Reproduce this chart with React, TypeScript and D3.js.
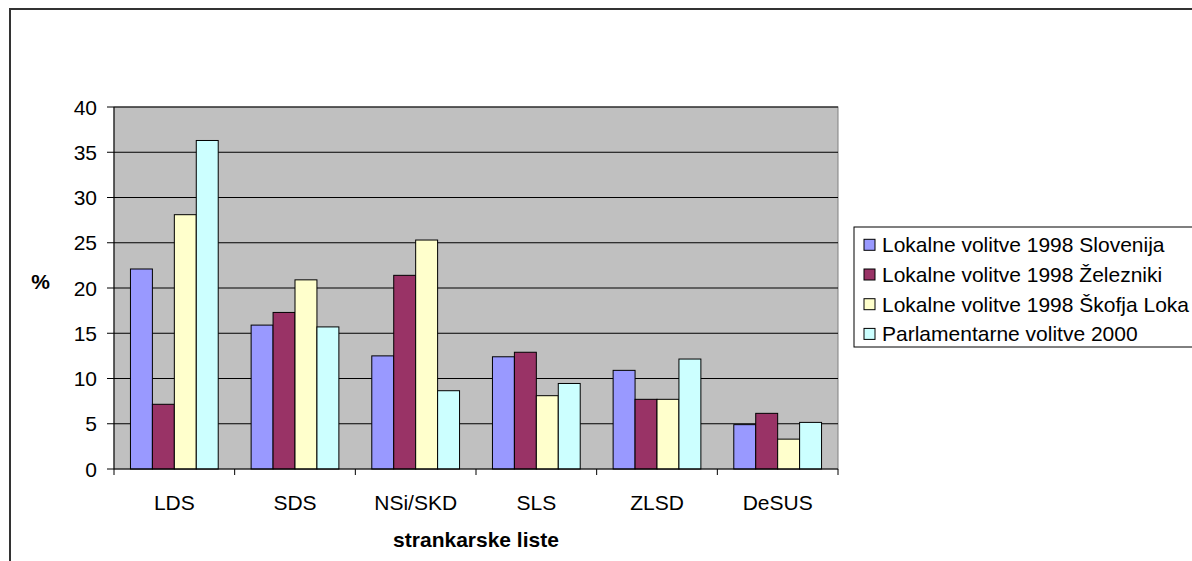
import React from "react";
import * as d3 from "d3";

const categories = ["LDS", "SDS", "NSi/SKD", "SLS", "ZLSD", "DeSUS"];
const seriesNames = [
  "Lokalne volitve 1998 Slovenija",
  "Lokalne volitve 1998 Železniki",
  "Lokalne volitve 1998 Škofja Loka",
  "Parlamentarne volitve 2000",
];
const slovenija = [22.1, 15.9, 12.5, 12.4, 10.9, 4.9];
const zelezniki = [7.15, 17.3, 21.4, 12.9, 7.7, 6.15];
const skofjaLoka = [28.1, 20.9, 25.3, 8.1, 7.7, 3.3];
const parlamentarne = [36.3, 15.7, 8.65, 9.45, 12.15, 5.15];
const seriesValues = [slovenija, zelezniki, skofjaLoka, parlamentarne];
const seriesColors = ["#9999ff", "#993366", "#ffffcc", "#ccffff"];
const yTicks = [0, 5, 10, 15, 20, 25, 30, 35, 40];
const xTitle = "strankarske liste";
const yTitle = "%";

const W = 1192;
const H = 561;
const plot = { left: 114, right: 838, top: 107, bottom: 469 };
const FONT = "'Liberation Sans', Arial, sans-serif";

export default function App() {
  const x0 = d3
    .scaleBand<string>()
    .domain(categories)
    .range([plot.left, plot.right])
    .paddingInner(0)
    .paddingOuter(0);
  const gapRatio = 1.5;
  const barW = x0.bandwidth() / (seriesNames.length + gapRatio);
  const x1 = d3
    .scaleBand<number>()
    .domain(d3.range(seriesNames.length))
    .range([x0.bandwidth() * (gapRatio / 2) / (seriesNames.length + gapRatio), x0.bandwidth() * (gapRatio / 2) / (seriesNames.length + gapRatio) + barW * seriesNames.length]);
  const y = d3.scaleLinear().domain([0, 40]).range([plot.bottom, plot.top]);

  const legend = { x: 854, y: 227, rowH: 29.7, firstRow: 244.8 };

  return (
    <svg
      width={W}
      height={H}
      style={{ position: "absolute", left: 0, top: 0, background: "#fff" }}
      fontFamily={FONT}
    >
      <rect x={0} y={0} width={W} height={H} fill="#fff" />
      {/* outer chart frame */}
      <path d={`M10,${H + 5} L10,9 L${W + 5},9`} fill="none" stroke="#333" strokeWidth={2} />

      {/* plot area */}
      <rect
        x={plot.left}
        y={plot.top}
        width={plot.right - plot.left}
        height={plot.bottom - plot.top}
        fill="#c0c0c0"
        stroke="#808080"
        strokeWidth={1}
      />
      {yTicks.filter((t) => t > 0).map((t) => (
        <line key={"g" + t} x1={plot.left} x2={plot.right} y1={y(t)} y2={y(t)} stroke="#000" strokeWidth={1} />
      ))}

      {/* bars */}
      {categories.map((c, ci) => (
        <g key={c}>
          {seriesValues.map((vals, si) => (
            <rect
              key={si}
              x={(x0(c) as number) + (x1(si) as number)}
              y={y(vals[ci])}
              width={barW}
              height={y(0) - y(vals[ci])}
              fill={seriesColors[si]}
              stroke="#000"
              strokeWidth={1}
            />
          ))}
        </g>
      ))}

      {/* axes */}
      <line x1={plot.left} x2={plot.left} y1={plot.top} y2={plot.bottom} stroke="#000" strokeWidth={1} />
      <line x1={plot.left} x2={plot.right} y1={plot.bottom} y2={plot.bottom} stroke="#000" strokeWidth={1} />
      {yTicks.map((t) => (
        <g key={"t" + t}>
          <line x1={plot.left - 7} x2={plot.left} y1={y(t)} y2={y(t)} stroke="#000" strokeWidth={1} />
          <text x={97} y={y(t)} dy="0.36em" textAnchor="end" fontSize={21} fill="#000">
            {t}
          </text>
        </g>
      ))}
      {d3.range(categories.length + 1).map((i) => {
        const xx = plot.left + i * x0.bandwidth();
        return <line key={"xt" + i} x1={xx} x2={xx} y1={plot.bottom} y2={plot.bottom + 6} stroke="#000" strokeWidth={1} />;
      })}
      {categories.map((c) => (
        <text key={"c" + c} x={(x0(c) as number) + x0.bandwidth() / 2} y={502} dy="0.36em" textAnchor="middle" fontSize={21} fill="#000">
          {c}
        </text>
      ))}
      <text x={(plot.left + plot.right) / 2} y={539} dy="0.36em" textAnchor="middle" fontSize={21} fontWeight="bold" fill="#000">
        {xTitle}
      </text>
      <text x={40.5} y={281.7} dy="0.36em" textAnchor="middle" fontSize={21} fontWeight="bold" fill="#000">
        {yTitle}
      </text>

      {/* legend */}
      <rect x={legend.x} y={legend.y} width={400} height={120} fill="#fff" stroke="#000" strokeWidth={1} />
      {seriesNames.map((n, i) => {
        const cy = legend.firstRow + i * legend.rowH;
        return (
          <g key={n}>
            <rect x={864} y={cy - 5.5} width={11} height={11} fill={seriesColors[i]} stroke="#000" strokeWidth={1} />
            <text x={882} y={cy} dy="0.36em" fontSize={21} fill="#000">
              {n}
            </text>
          </g>
        );
      })}
    </svg>
  );
}
